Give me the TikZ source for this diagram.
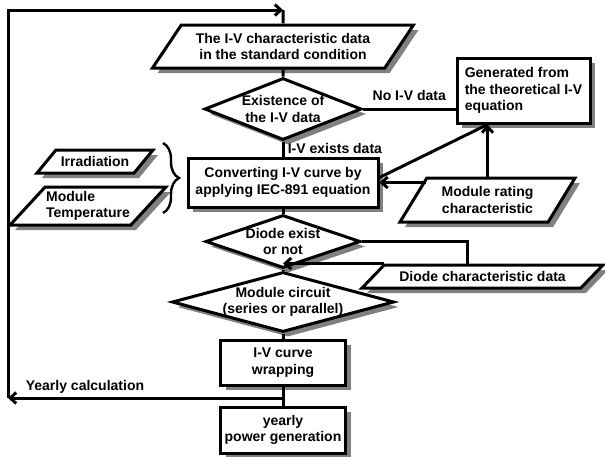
\documentclass[tikz,border=0pt]{standalone}
\usepackage{fontspec}
\setmainfont{Liberation Sans}
\usetikzlibrary{arrows.meta,shapes.geometric,shadows,decorations.pathreplacing}

\begin{document}
\begin{tikzpicture}[x=1pt, y=-1pt,
  font=\fontsize{14}{16.5}\selectfont\bfseries,
  shadowed/.style={drop shadow={shadow xshift=5pt, shadow yshift=-5pt, fill=black!50, opacity=1}},
  box/.style={draw, fill=white, shadowed, line width=3pt, align=center, inner sep=2pt},
  datain/.style={trapezium, trapezium left angle=45, trapezium right angle=135, trapezium stretches body, draw, fill=white, shadowed, line width=3pt, inner sep=1pt, align=center},
  decision/.style={diamond, draw, fill=white, shadowed, line width=3pt, inner sep=-1pt, align=center},
  link/.style={line width=3pt},
  arrow/.style={link, -{Straight Barb[length=6pt,width=11pt]}},
  brace/.style={line width=2.4pt, decorate, decoration={brace, amplitude=16pt}}
]
\useasboundingbox (0,0) rectangle (605,456);

% input data
\node[datain, minimum width=261pt, minimum height=43pt] (stdata) at (283,46.5) {The I-V characteristic data\\in the standard condition};
\node[decision, minimum width=157pt, minimum height=62pt, aspect=2.5] (exist) at (283,109) {Existence of\\the I-V data};
\node[box, minimum width=133pt, minimum height=65pt, align=left] (theory) at (523.5,90.5) {Generated from\\the theoretical I-V\\equation};
\node[box, minimum width=190pt, minimum height=49pt] (convert) at (283,182.5) {Converting I-V curve by\\applying IEC-891 equation};
\node[datain, trapezium left angle=47, trapezium right angle=133, minimum width=175pt, minimum height=44pt] (rating) at (487.5,200) {Module rating\\characteristic};
\node[datain, trapezium left angle=33, trapezium right angle=147, minimum width=116pt, minimum height=23pt] (irr) at (95,161.5) {Irradiation};
\node[datain, trapezium left angle=42, trapezium right angle=138, minimum width=145pt, minimum height=38pt, align=left] (temp) at (88,206) {Module\\Temperature};

% circuit part
\node[decision, minimum width=155pt, minimum height=53pt, aspect=2.9] (diode) at (283,241.5) {Diode exist\\or not};
\node[decision, minimum width=222pt, minimum height=60pt, aspect=3.7] (circuit) at (283,302) {Module circuit\\(series or parallel)};
\node[datain, trapezium left angle=29, trapezium right angle=151, minimum width=241pt, minimum height=23pt] (dchar) at (482.5,276.5) {Diode characteristic data};
\node[box, minimum width=125pt, minimum height=45pt] (wrap) at (283,362.5) {I-V curve\\wrapping};
\node[box, minimum width=125pt, minimum height=46pt] (yearly) at (283,430) {yearly\\power generation};

\coordinate (btop) at (163,143);
\coordinate (bbot) at (163,213);
\coordinate (back) at (8,398);
\coordinate (loop) at (283,10);

\draw[brace] (btop) -- (bbot);
\draw[link] (stdata.south) -- (exist.north);
\draw[link] (exist.east) -- node[above=4pt]{No I-V data} (theory.west |- exist.east);
\draw[link] (exist.south) -- node[right, pos=0.45]{I-V exists data} (convert.north);
\draw[link] ([yshift=5pt]convert.east) -- (theory.south -| rating.north);
\draw[arrow] (rating.north) -- (theory.south -| rating.north);
\draw[arrow] (convert.east -| rating.top left corner) -- (convert.east);
\draw[link] (convert.south) -- (diode.north);
\draw[link] (diode.east) -| ([xshift=-15.5pt]dchar.north);
\draw[arrow] (dchar.top left corner) -- (dchar.top left corner -| diode.south);
\draw[link] (diode.south) -- (circuit.north);
\draw[link] (circuit.south) -- (wrap.north);
\draw[link] (wrap.south) -- (yearly.north);
\draw[arrow] (wrap.south |- back) -- node[above, pos=0.72]{Yearly calculation} (back);
\draw[arrow] (back) |- (loop);
\draw[link] (loop) -- (stdata.north);
\end{tikzpicture}
\end{document}
